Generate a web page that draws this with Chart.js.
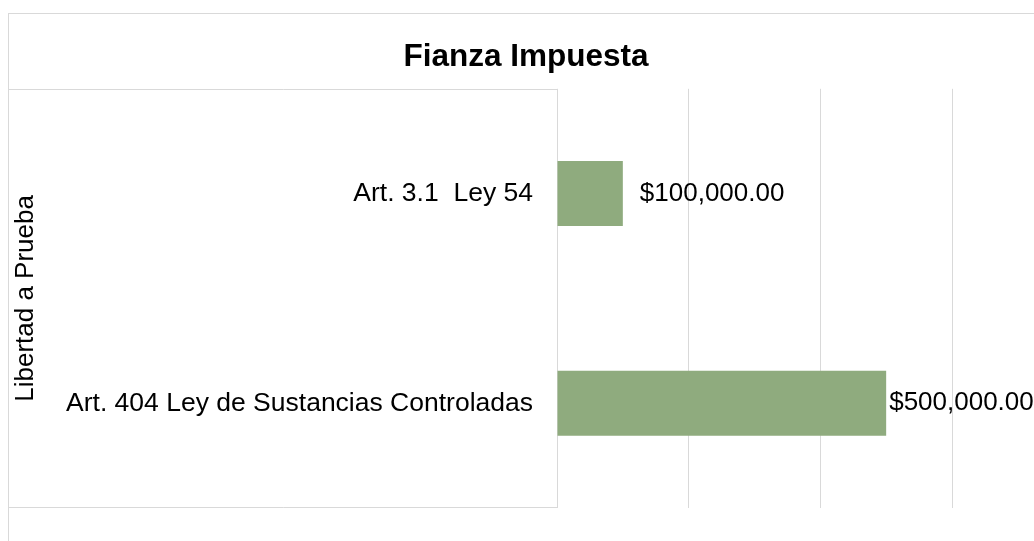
<!DOCTYPE html>
<html>
<head>
<meta charset="utf-8">
<script src="https://cdn.jsdelivr.net/npm/chart.js@4/dist/chart.umd.min.js"></script>
<style>
  html, body { margin: 0; padding: 0; background: #fff; overflow: hidden; width: 1034px; height: 541px; }
  #frame { position: absolute; left: 8px; top: 13px; width: 1034px; height: 560px; border: 1px solid #d9d9d9; background: #fff; }
  canvas { display: block; }
</style>
</head>
<body>
<div id="frame"><canvas id="c" width="1034" height="560"></canvas></div>
<script>
const chartTitle = "Fianza Impuesta";
const groupLabel = "Libertad a Prueba";
const categories = ["Art. 3.1  Ley 54", "Art. 404 Ley de Sustancias Controladas"];
const values = [100000, 500000];
const axisMin = 0;
const axisMax = 600000;
const axisStep = 200000;

const FONT = '"Liberation Sans", Arial, sans-serif';
const fmt = v => '$' + v.toLocaleString('en-US', {minimumFractionDigits: 2, maximumFractionDigits: 2});

const labelPlugin = {
  id: 'barLabels',
  afterDatasetsDraw(chart, args, opts) {
    const ctx = chart.ctx;
    const meta = chart.getDatasetMeta(0);
    ctx.save();
    ctx.font = '26px ' + FONT;
    ctx.fillStyle = '#000';
    ctx.textAlign = 'left';
    ctx.textBaseline = 'middle';
    meta.data.forEach((el, i) => {
      const off = (opts.offsets && opts.offsets[i]) || 4;
      ctx.fillText(fmt(chart.data.datasets[0].data[i]), el.x + off, el.y);
    });
    ctx.restore();
  }
};

const boxPlugin = {
  id: 'catBox',
  beforeDatasetsDraw(chart) {
    const ctx = chart.ctx;
    const a = chart.chartArea;
    ctx.save();
    ctx.strokeStyle = '#d9d9d9';
    ctx.lineWidth = 1;
    ctx.beginPath();
    ctx.moveTo(0, Math.round(a.top) + 0.5);
    ctx.lineTo(Math.round(a.left) + 0.5, Math.round(a.top) + 0.5);
    ctx.moveTo(0, Math.round(a.bottom) - 0.5);
    ctx.lineTo(Math.round(a.left) + 0.5, Math.round(a.bottom) - 0.5);
    ctx.stroke();
    ctx.restore();
  }
};

new Chart(document.getElementById('c'), {
  type: 'bar',
  data: {
    labels: categories,
    datasets: [{
      data: values,
      backgroundColor: '#8fab7e',
      borderWidth: 0,
      categoryPercentage: 1,
      barPercentage: 0.31
    }]
  },
  plugins: [boxPlugin, labelPlugin],
  options: {
    indexAxis: 'y',
    responsive: false,
    animation: false,
    layout: { padding: { left: 0, right: 0, top: 0, bottom: 66 } },
    plugins: {
      legend: { display: false },
      tooltip: { enabled: false },
      title: {
        display: true,
        text: chartTitle,
        color: '#000',
        font: { family: FONT, size: 31.5, weight: 'bold' },
        padding: { top: 24, bottom: 13 }
      },
      barLabels: { offsets: [17, 3] }
    },
    scales: {
      x: {
        min: axisMin,
        max: axisMax,
        ticks: { display: false, stepSize: axisStep },
        grid: { color: '#d9d9d9', drawTicks: false, lineWidth: 1 },
        border: { display: false }
      },
      y: {
        afterFit(scale) { scale.width = 548; },
        ticks: { color: '#000', font: { family: FONT, size: 26.5 }, padding: 24 },
        grid: { display: false, drawTicks: false },
        border: { display: false },
        title: {
          display: true,
          text: groupLabel,
          color: '#000',
          font: { family: FONT, size: 26 },
          padding: { top: 1, bottom: 0 }
        }
      },
      yRight: {
        type: 'linear',
        position: 'right',
        afterFit(scale) { scale.width = 91; },
        ticks: { display: false },
        grid: { display: false, drawTicks: false },
        border: { display: false }
      }
    }
  }
});
</script>
</body>
</html>
